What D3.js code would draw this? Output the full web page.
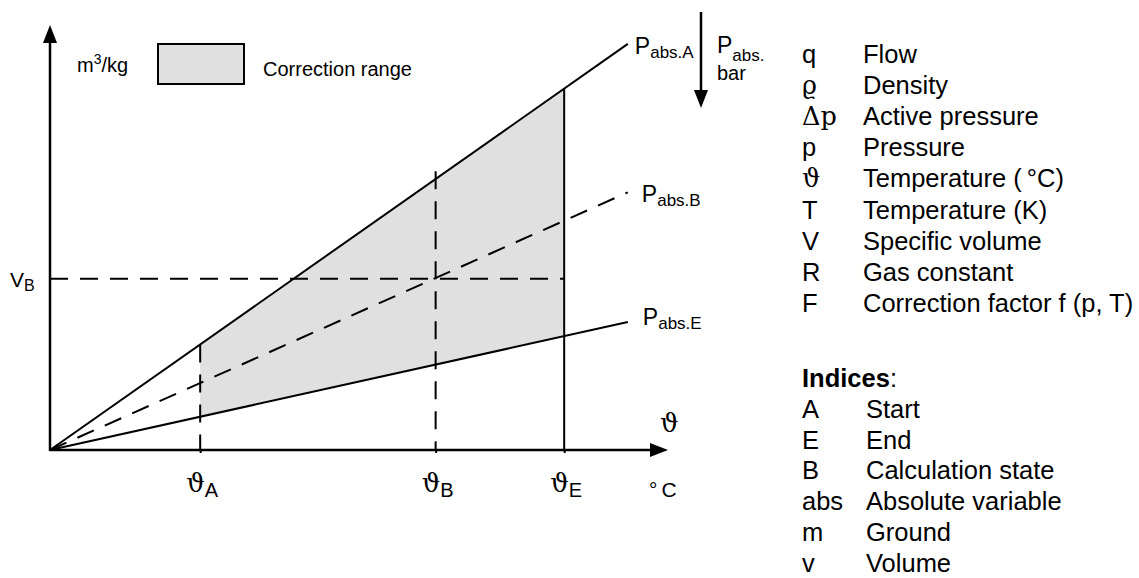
<!DOCTYPE html>
<html>
<head>
<meta charset="utf-8">
<script src="https://cdn.jsdelivr.net/npm/d3@7/dist/d3.min.js"></script>
<style>
  html, body { margin: 0; padding: 0; background: #fff; }
  svg { display: block; }
  text { font-family: "Liberation Sans", Arial, Helvetica, sans-serif; fill: #000; }
  .greek { font-family: "DejaVu Serif", "Liberation Serif", serif; }
</style>
</head>
<body>
<svg id="chart" width="1139" height="578"></svg>
<script>
// ---------------- data ----------------
const curveNames   = ["abs.A", "abs.B", "abs.E"];   // P subscripts
const curveSlopes  = [1.022, 0.6485, 0.322];        // specific volume per unit temperature
const curveDashed  = [false, true, false];
const curveEnd     = 93.5;                           // temperature where curves end

const thetaNames   = ["A", "B", "E"];
const thetaValues  = [24.3, 62.4, 83.2];
const thetaTopB    = 65.6;                           // top of the ϑB guide line
const VB           = 40.3;                           // calculation state volume

const legendSymbols = ["q", "\u03F1", "\u0394p", "p", "\u03D1", "T", "V", "R", "F"];
const legendTexts   = ["Flow", "Density", "Active pressure", "Pressure",
                       "Temperature (\u2009\u00B0C)", "Temperature (K)", "Specific volume",
                       "Gas constant", "Correction factor f (p, T)"];
const indexSymbols  = ["A", "E", "B", "abs", "m", "v"];
const indexTexts    = ["Start", "End", "Calculation state", "Absolute variable", "Ground", "Volume"];

// ---------------- setup ----------------
const svg = d3.select("#chart");
const x = d3.scaleLinear().domain([0, 100]).range([50, 668]);
const y = d3.scaleLinear().domain([0, 100]).range([450, 25]);
const DASH = "18,12";
const FILL = "#e0e0e0";

const lineGen = d3.line().x(d => x(d[0])).y(d => y(d[1]));
const vA = t => curveSlopes[0] * t;
const vE = t => curveSlopes[2] * t;

// shaded correction range
const tA = thetaValues[0], tE = thetaValues[2];
svg.append("path")
  .attr("d", lineGen([[tA, vA(tA)], [tE, vA(tE)], [tE, vE(tE)], [tA, vE(tA)]]) + "Z")
  .attr("fill", FILL).attr("stroke", "none");

// V_B horizontal guide
svg.append("path")
  .attr("d", lineGen([[0, VB], [tE, VB]]))
  .attr("fill", "none").attr("stroke", "#000").attr("stroke-width", 2)
  .attr("stroke-dasharray", DASH);

// vertical guides
const guideTops = [vA(thetaValues[0]), thetaTopB, vA(thetaValues[2])];
const guideDashed = [true, true, false];
thetaValues.forEach((t, i) => {
  svg.append("path")
    .attr("d", lineGen([[t, guideTops[i]], [t, 0]]))
    .attr("fill", "none").attr("stroke", "#000").attr("stroke-width", 2)
    .attr("stroke-dasharray", guideDashed[i] ? DASH : null);
});

// curves
curveSlopes.forEach((s, i) => {
  svg.append("path")
    .attr("d", lineGen([[0, 0], [curveEnd, s * curveEnd]]))
    .attr("fill", "none").attr("stroke", "#000").attr("stroke-width", 2)
    .attr("stroke-dasharray", curveDashed[i] ? DASH : null);
});

// curve labels
const curveLabelOffsets = [[7, 10], [14, 10], [15, 3]];
curveSlopes.forEach((s, i) => {
  const t = svg.append("text")
    .attr("x", x(curveEnd) + curveLabelOffsets[i][0])
    .attr("y", y(s * curveEnd) + curveLabelOffsets[i][1])
    .attr("font-size", 23);
  t.append("tspan").text("P");
  t.append("tspan").attr("dy", 4).attr("font-size", 17).text(curveNames[i]);
});

// x axis
const xAxis = d3.axisBottom(x).tickValues(thetaValues).tickSize(3).tickSizeOuter(0).tickFormat("");
const gx = svg.append("g").attr("transform", `translate(0,${y(0)})`).call(xAxis);
gx.select(".domain").attr("stroke-width", 2.5).attr("d", `M${x(0)},0H${x(100) - 16}`);
gx.selectAll(".tick line").attr("stroke-width", 2);
svg.append("path")
  .attr("d", `M${x(100)},${y(0)}L${x(100) - 18},${y(0) - 7}L${x(100) - 18},${y(0) + 7}Z`)
  .attr("fill", "#000");

// y axis
const yAxis = d3.axisLeft(y).tickValues([]).tickSize(0).tickSizeOuter(0);
const gy = svg.append("g").attr("transform", `translate(${x(0)},0)`).call(yAxis);
gy.select(".domain").attr("stroke-width", 2.5).attr("d", `M0,${y(0) + 1}V${y(100) + 16}`);
svg.append("path")
  .attr("d", `M${x(0)},${y(100)}L${x(0) - 7},${y(100) + 18}L${x(0) + 7},${y(100) + 18}Z`)
  .attr("fill", "#000");

// theta tick labels
thetaValues.forEach((t, i) => {
  const tx = svg.append("text")
    .attr("x", x(t) - 14).attr("y", y(0) + 42)
    .attr("font-size", 26);
  tx.append("tspan").attr("class", "greek").text("\u03D1");
  tx.append("tspan").attr("dy", 5).attr("font-size", 20).text(thetaNames[i]);
});
svg.append("text").attr("x", x(100) - 19).attr("y", y(0) + 47).attr("font-size", 21).text("\u00B0\u2009C");
svg.append("text").attr("class", "greek").attr("x", x(100) - 8).attr("y", y(0) - 18)
  .attr("font-size", 26).text("\u03D1");

// V_B label
const vb = svg.append("text").attr("x", 10).attr("y", y(VB) + 8).attr("font-size", 21);
vb.append("tspan").text("V");
vb.append("tspan").attr("dy", 4).attr("font-size", 16).text("B");

// unit label
const un = svg.append("text").attr("x", 77).attr("y", 72).attr("font-size", 20);
un.append("tspan").text("m");
un.append("tspan").attr("dy", -8).attr("font-size", 14).text("3");
un.append("tspan").attr("dy", 8).text("/kg");

// legend box
svg.append("rect").attr("x", 158).attr("y", 44).attr("width", 86).attr("height", 40)
  .attr("fill", FILL).attr("stroke", "#000").attr("stroke-width", 2);
svg.append("text").attr("x", 263).attr("y", 76).attr("font-size", 20).text("Correction range");

// pressure arrow
svg.append("line").attr("x1", 701).attr("y1", 12).attr("x2", 701).attr("y2", 92)
  .attr("stroke", "#000").attr("stroke-width", 2.5);
svg.append("path").attr("d", "M701,108L694,90L708,90Z").attr("fill", "#000");
const pb = svg.append("text").attr("x", 717).attr("y", 53).attr("font-size", 23);
pb.append("tspan").text("P");
pb.append("tspan").attr("dy", 8).attr("font-size", 17).text("abs.");
svg.append("text").attr("x", 717).attr("y", 80).attr("font-size", 20).text("bar");

// right-hand legend
const symX = 802, descX = 863, FS = 25.5;
legendSymbols.forEach((s, i) => {
  const yy = 63 + i * 31.1;
  svg.append("text").attr("x", symX).attr("y", yy).attr("font-size", FS)
    .attr("class", (s === "\u03F1" || s === "\u03D1" || s === "\u0394p") ? "greek" : null).text(s);
  svg.append("text").attr("x", descX).attr("y", yy).attr("font-size", FS).text(legendTexts[i]);
});
const ind = svg.append("text").attr("x", symX).attr("y", 387).attr("font-size", FS);
ind.append("tspan").attr("font-weight", "bold").text("Indices");
ind.append("tspan").text(":");
indexSymbols.forEach((s, i) => {
  const yy = 418 + i * 30.7;
  svg.append("text").attr("x", symX).attr("y", yy).attr("font-size", FS).text(s);
  svg.append("text").attr("x", 866).attr("y", yy).attr("font-size", FS).text(indexTexts[i]);
});
</script>
</body>
</html>
